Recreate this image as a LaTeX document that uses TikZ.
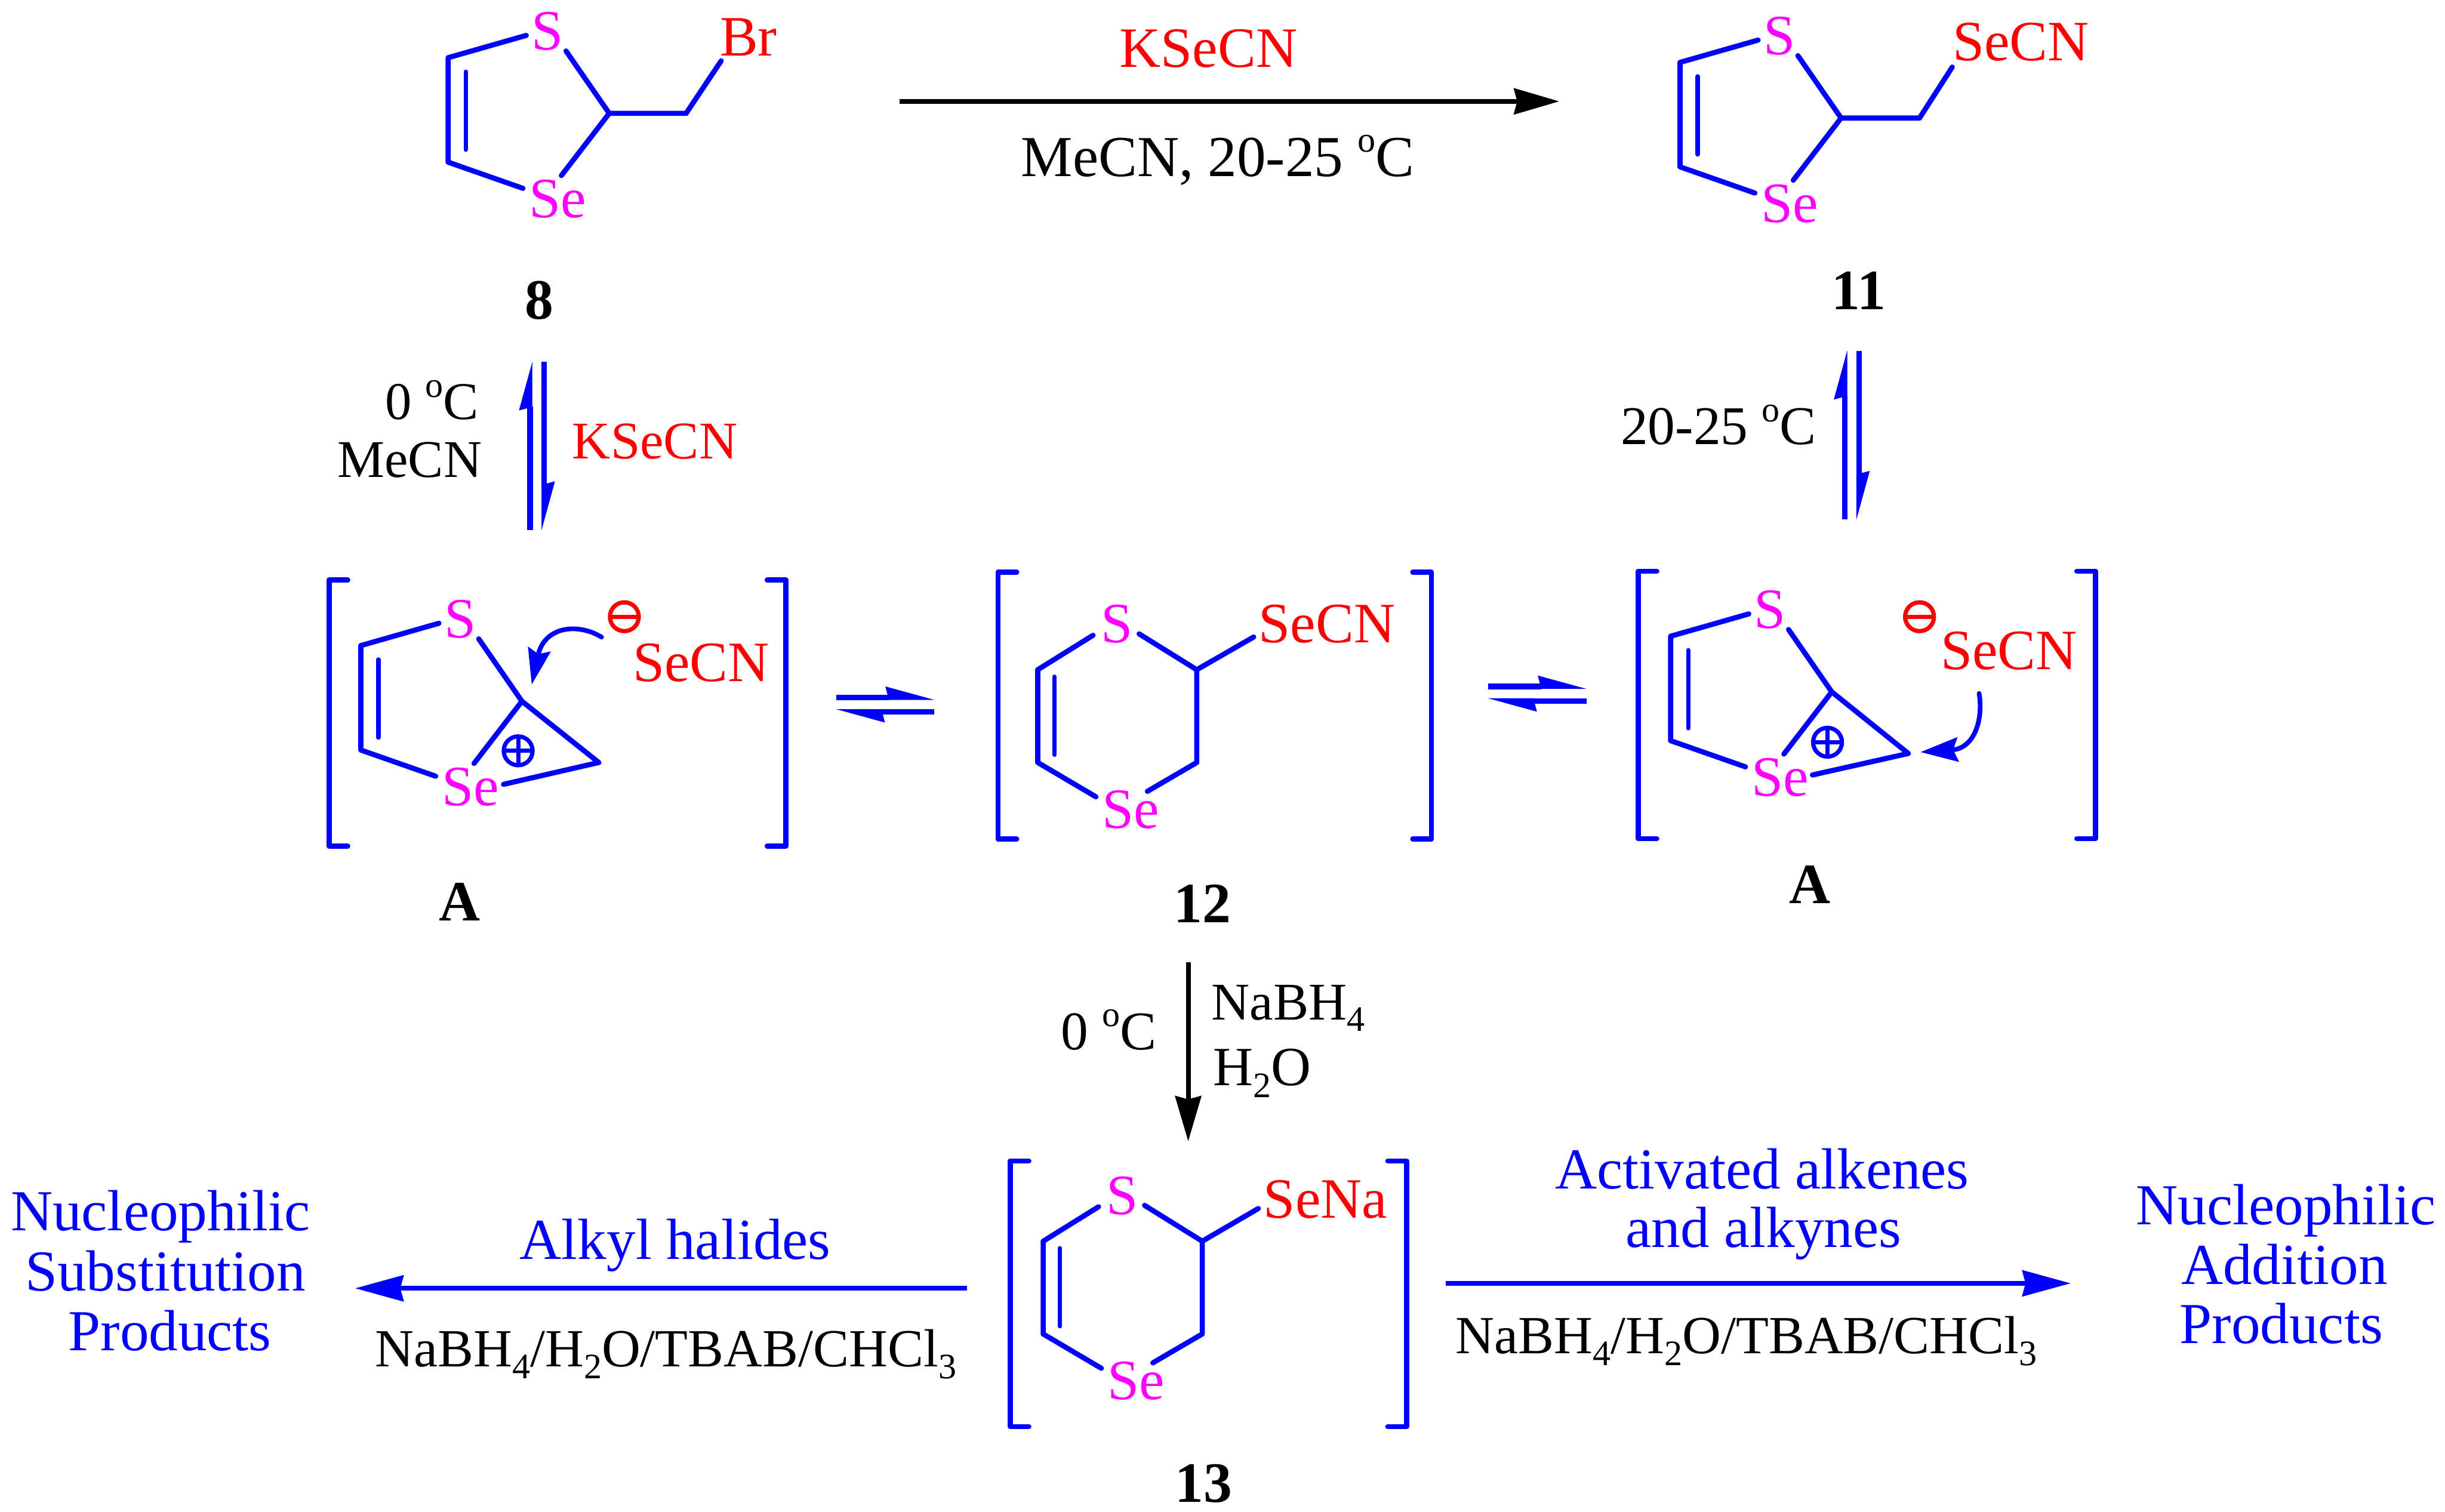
\documentclass[tikz,border=0pt]{standalone}
\usepackage{fontspec}
\setmainfont{Liberation Serif}
\usetikzlibrary{arrows.meta,calc}
\definecolor{cblue}{RGB}{0,0,255}
\definecolor{cred}{RGB}{255,0,0}
\definecolor{cmag}{RGB}{255,0,255}
\newcommand\chemsub[1]{\raisebox{-0.22em}{\fontsize{23}{25}\selectfont #1}}
\newcommand\chemsup[1]{\raisebox{0.42em}{\fontsize{23}{25}\selectfont #1}}
\tikzset{
  x=1pt,y=-1pt,
  every node/.style={inner sep=0pt,outer sep=0pt,font=\fontsize{36.6}{38}\selectfont},
  bond/.style={cblue,line width=3.3pt,line cap=round,line join=round},
  innerbond/.style={cblue,line width=2.8pt,line cap=round},
  brk/.style={cblue,line width=3.3pt,line cap=round,line join=round},
  atomtxt/.style={cmag},
  redtxt/.style={cred},
  bluetxt/.style={cblue,anchor=base,font=\fontsize{37.2}{39}\selectfont},
  blacktxt/.style={anchor=base},
  smalltxt/.style={font=\fontsize{34}{36}\selectfont},
  labeltxt/.style={anchor=base,font=\fontsize{36.6}{38}\selectfont\bfseries},
  harpshaft/.style={cblue,line width=3.3pt},
  harphead/.style={cblue,line width=0.1pt,-{Stealth[harpoon,length=31pt,width=17pt,inset=2.2pt]}},
  bigblue/.style={cblue,line width=3.1pt,-{Stealth[length=31pt,width=16.5pt,inset=2pt]}},
  bigblack/.style={black,line width=3.1pt,-{Stealth[length=29pt,width=16.5pt,inset=2pt]}},
  curly/.style={cblue,line width=3pt,line cap=round},
  charge/.style={circle,draw,line width=2.7pt,minimum size=18.5pt},
  chargeline/.style={line width=2.7pt},
}
\newcommand\fivering[3]{%
  \begin{scope}[shift={(#2,#3)}]
    \node[atomtxt] (#1S) at (295,397) {S};
    \node[atomtxt] (#1Se) at (301.6,504.6) {Se};
    \coordinate (#1a) at (231.4,414);
    \coordinate (#1b) at (231.4,481);
    \coordinate (#1c) at (334.7,449.7);
    \coordinate (#1i) at (242.7,423);
    \coordinate (#1j) at (242.7,473);
    \coordinate (#1sa) at (281.5,399.7);
    \coordinate (#1sb) at (279.4,497.8);
    \coordinate (#1sc) at (307,409.7);
    \coordinate (#1sd) at (304,489.6);
    \draw[bond] (#1sa) -- (#1a) -- (#1b) -- (#1sb);
    \draw[bond] (#1sc) -- (#1c) -- (#1sd);
    \draw[innerbond] (#1i) -- (#1j);
  \end{scope}}
\newcommand\sixring[3]{%
  \begin{scope}[shift={(#2,#3)}]
    \node[atomtxt] (#1S) at (716.3,400.3) {S};
    \node[atomtxt] (#1Se) at (725,519.2) {Se};
    \coordinate (#1a) at (665.5,429.5);
    \coordinate (#1b) at (665.5,489);
    \coordinate (#1c) at (767.5,429.5);
    \coordinate (#1d) at (767.5,489);
    \coordinate (#1i) at (676.2,434);
    \coordinate (#1j) at (676.2,484);
    \coordinate (#1sa) at (701,407.4);
    \coordinate (#1sb) at (702.8,511);
    \coordinate (#1sc) at (730.5,406.5);
    \coordinate (#1sd) at (735.8,507.5);
    \draw[bond] (#1sa) -- (#1a) -- (#1b) -- (#1sb);
    \draw[bond] (#1sc) -- (#1c) -- (#1d) -- (#1sd);
    \draw[innerbond] (#1i) -- (#1j);
  \end{scope}}
\newcommand\bracketpair[5]{%
  \coordinate (#1tl) at (#2+12,#4);
  \coordinate (#1tlc) at (#2,#4);
  \coordinate (#1blc) at (#2,#5);
  \coordinate (#1bl) at (#2+12,#5);
  \coordinate (#1tr) at (#3-12,#4);
  \coordinate (#1trc) at (#3,#4);
  \coordinate (#1brc) at (#3,#5);
  \coordinate (#1br) at (#3-12,#5);
  \draw[brk] (#1tl) -- (#1tlc) -- (#1blc) -- (#1bl);
  \draw[brk] (#1tr) -- (#1trc) -- (#1brc) -- (#1br);}
% half-headed equilibrium arrow: shaft on the axis, barb flush with the outer edge
\newcommand\harpoonarrow[7]{%
  \coordinate (#1s) at (#2,#3);
  \coordinate (#1e) at (#4,#5);
  \draw[harpshaft] (#1s) -- ($(#1e)!29pt!(#1s)$);
  \draw[harphead] ([shift={(#6,#7)}]#1s) -- ([shift={(#6,#7)}]#1e);}
\begin{document}
\begin{tikzpicture}
\useasboundingbox (0,0) rectangle (1568,969.3);
% compound 8
\fivering{p}{56}{-377}
\coordinate (pch) at (440,72.7);
\node[cred] (pBr) at (480,24) {Br};
\coordinate (pbr) at (462.5,39);
\draw[bond] (pc) -- (pch) -- (pbr);
\node[labeltxt] (l8) at (346,204.5) {8};
% compound 11
\fivering{q}{846}{-374}
\coordinate (qch) at (1231,75.7);
\node[redtxt] (qX) at (1296,27) {SeCN};
\coordinate (qx) at (1252,43);
\draw[bond] (qc) -- (qch) -- (qx);
\node[labeltxt] (l11) at (1192,198.5) {11};
% top arrow
\coordinate (t1) at (577,65);
\coordinate (t2) at (1000,65);
\draw[bigblack] (t1) -- (t2);
\node[redtxt,anchor=base] (tk) at (775,43) {KSeCN};
\node[blacktxt,font=\fontsize{37.2}{39}\selectfont] (tm) at (781,113) {MeCN, 20-25 \chemsup{o}C};
% left A
\fivering{r}{0}{0}
\bracketpair{rb}{211}{504}{372}{542.6}
\coordinate (rd) at (384,489);
\coordinate (rse) at (322.9,503);
\draw[bond] (rc) -- (rd) -- (rse);
\node[charge,cblue] (rplus) at (332.3,481.5) {};
\draw[chargeline,cblue] (rplus.north) -- (rplus.south);
\draw[chargeline,cblue] (rplus.west) -- (rplus.east);
\node[charge,cred] (rminus) at (400.4,395.5) {};
\draw[chargeline,cred] (rminus.west) -- (rminus.east);
\node[redtxt] (rX) at (449.6,425) {SeCN};
\coordinate (ra1) at (385.8,408.6);
\coordinate (ra2) at (341,439);
\draw[curly,-{Stealth[length=23pt,width=14.5pt,inset=3pt]}] (ra1) .. controls (370,399) and (349,402) .. (ra2);
\node[labeltxt] (lA1) at (294.7,590.5) {A};
% right A
\fivering{s}{840}{-6}
\bracketpair{sb}{1050.5}{1343.9}{366.3}{537.8}
\coordinate (sd) at (1223.8,483.2);
\coordinate (sse) at (1162.3,497);
\draw[bond] (sc) -- (sd) -- (sse);
\node[charge,cblue] (splus) at (1172,476) {};
\draw[chargeline,cblue] (splus.north) -- (splus.south);
\draw[chargeline,cblue] (splus.west) -- (splus.east);
\node[charge,cred] (sminus) at (1231,395.5) {};
\draw[chargeline,cred] (sminus.west) -- (sminus.east);
\node[redtxt] (sX) at (1288.3,417.4) {SeCN};
\coordinate (sa1) at (1269.2,444.7);
\coordinate (sa2) at (1231.6,482.3);
\draw[curly,-{Stealth[length=24pt,width=15.4pt,inset=3pt]}] (sa1) .. controls (1272,462) and (1266,480) .. (sa2);
\node[labeltxt] (lA2) at (1160.5,579.5) {A};
% 12
\sixring{u}{0}{0}
\bracketpair{ub}{640}{918}{367}{538}
\node[redtxt] (uX) at (851,400) {SeCN};
\coordinate (ux) at (804,408.5);
\draw[bond] (uc) -- (ux);
\node[labeltxt] (l12) at (771,591.5) {12};
% 13
\sixring{v}{3.5}{366.5}
\bracketpair{vb}{647.8}{902}{744.5}{914.9}
\node[redtxt] (vX) at (850,769) {SeNa};
\coordinate (vx) at (807,775);
\draw[bond] (vc) -- (vx);
\node[labeltxt] (l13) at (772,963.5) {13};
% equilibria
\harpoonarrow{ea}{339.7}{339.9}{339.7}{232}{1.65}{0}
\harpoonarrow{eb}{349}{232}{349}{339.9}{-1.65}{0}
\harpoonarrow{ec}{1182.9}{333.2}{1182.9}{225}{1.65}{0}
\harpoonarrow{ed}{1192.2}{225}{1192.2}{333.2}{-1.65}{0}
\harpoonarrow{ee}{536.3}{447.1}{599}{447.1}{0}{1.65}
\harpoonarrow{ef}{599}{456.5}{536.3}{456.5}{0}{-1.65}
\harpoonarrow{eg}{954.4}{440.1}{1017.4}{440.1}{0}{1.65}
\harpoonarrow{eh}{1017.4}{449.5}{954.4}{449.5}{0}{-1.65}
% conditions
\node[blacktxt,smalltxt] (c1) at (277,269) {0 \chemsup{o}C};
\node[blacktxt,smalltxt,anchor=base east] (c2) at (309,306) {MeCN};
\node[redtxt,smalltxt,anchor=base] (c3) at (420,294) {KSeCN};
\node[blacktxt,font=\fontsize{35}{37}\selectfont] (c4) at (1102,285) {20-25 \chemsup{o}C};
% reduction arrow
\coordinate (d1) at (762,617);
\coordinate (d2) at (762,732);
\draw[bigblack] (d1) -- (d2);
\node[blacktxt,font=\fontsize{35}{37}\selectfont] (c5) at (711,673) {0 \chemsup{o}C};
\node[blacktxt,smalltxt,anchor=base west] (c6) at (777,654) {NaBH\chemsub{4}};
\node[blacktxt,font=\fontsize{35.5}{37}\selectfont,anchor=base west] (c7) at (778,696) {H\chemsub{2}O};
% bottom arrows
\coordinate (b1) at (620,826.2);
\coordinate (b2) at (227.7,826.2);
\draw[bigblue] (b1) -- (b2);
\node[bluetxt] (b3) at (433,807.5) {Alkyl halides};
\node[blacktxt,font=\fontsize{34.4}{36}\selectfont] (b4) at (427,876.5) {NaBH\chemsub{4}/H\chemsub{2}O/TBAB/CHCl\chemsub{3}};
\coordinate (b5) at (927,823);
\coordinate (b6) at (1328,823);
\draw[bigblue] (b5) -- (b6);
\node[bluetxt] (b7) at (1130,762.5) {Activated alkenes};
\node[bluetxt] (b8) at (1131,800) {and alkynes};
\node[blacktxt,font=\fontsize{34.4}{36}\selectfont] (b9) at (1120,868) {NaBH\chemsub{4}/H\chemsub{2}O/TBAB/CHCl\chemsub{3}};
% product labels
\node[bluetxt] (n1) at (103,789) {Nucleophilic};
\node[bluetxt] (n2) at (106,828) {Substitution};
\node[bluetxt] (n3) at (109,866) {Products};
\node[bluetxt] (n4) at (1466,785.5) {Nucleophilic};
\node[bluetxt] (n5) at (1465,823.5) {Addition};
\node[bluetxt] (n6) at (1463,861.5) {Products};
\end{tikzpicture}
\end{document}
